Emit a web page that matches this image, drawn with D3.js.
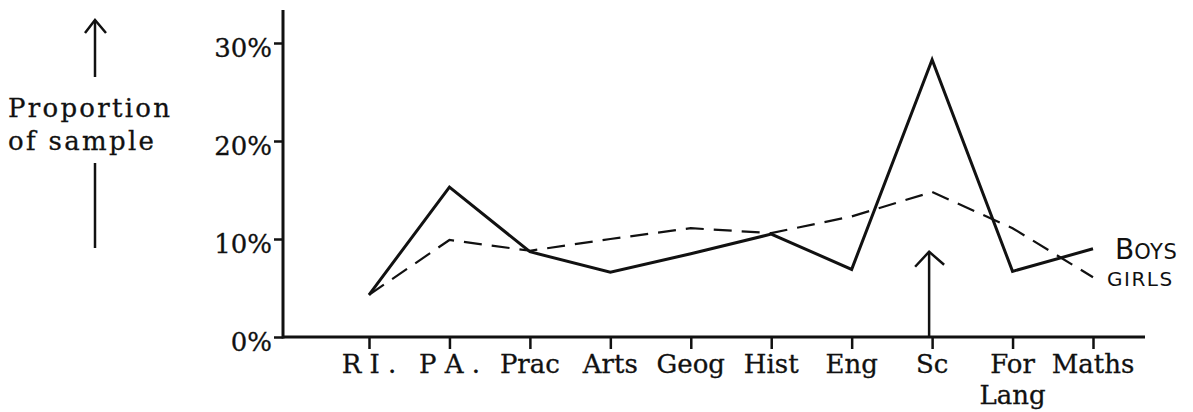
<!DOCTYPE html>
<html lang="en">

<head>
    <meta charset="UTF-8">
    <title>Proportion of sample by subject</title>
    <script src="https://d3js.org/d3.v7.js"></script>
    <style>
        body { margin: 0; background: #fff; }
        .type { font-family: "DejaVu Serif", "Liberation Serif", serif; fill: #111; stroke: #111; stroke-width: 0.3px; }
        .hand { font-family: "DejaVu Sans", sans-serif; fill: #111; }
    </style>
</head>

<body>
    <div class="canvas"></div>

    <script>
        // values (percent of sample)
        let subjects = ["R.I.", "P.A.", "Prac", "Arts", "Geog", "Hist", "Eng", "Sc", "For Lang", "Maths"];
        let subjectLabels = [["R I ."], ["P A ."], ["Prac"], ["Arts"], ["Geog"], ["Hist"], ["Eng"], ["Sc"], ["For", "Lang"], ["Maths"]];
        let boys = [4.3, 15.3, 8.7, 6.6, 8.5, 10.5, 6.9, 28.3, 6.7, 9.0];
        let girls = [4.3, 9.9, 8.8, 10.0, 11.1, 10.6, 12.3, 14.8, 11.1, 6.1];
        let yTicks = [0, 10, 20, 30];
        let yTickLabels = ["0%", "10%", "20%", "30%"];
        let scArrowTop = 8.7; // the arrow under Sc reaches about here

        // canvas
        let width = 1193, height = 412;
        let originX = 283, originY = 337;

        let svg = d3.select(".canvas")
            .append("svg")
            .attr("width", width)
            .attr("height", height);

        // scales
        let x = d3.scalePoint()
            .domain(subjects)
            .range([369, 1093]);
        let y = d3.scaleLinear()
            .domain([0, 30])
            .range([originY, 43]);

        // y axis
        let yAxis = svg.append("g")
            .attr("transform", "translate(" + originX + ",0)")
            .call(d3.axisLeft(y).tickValues(yTicks).tickSize(9).tickFormat((d, i) => yTickLabels[i]));
        yAxis.select(".domain").remove();
        yAxis.selectAll(".tick line").attr("stroke", "#111").attr("stroke-width", 2.5);
        yAxis.selectAll(".tick text")
            .attr("class", "type")
            .attr("font-size", 26)
            .attr("dy", null)
            .attr("y", 13)
            .attr("x", -11);

        // x axis
        let xAxis = svg.append("g")
            .attr("transform", "translate(0," + originY + ")")
            .call(d3.axisBottom(x).tickSize(12).tickFormat(""));
        xAxis.select(".domain").remove();
        xAxis.selectAll(".tick line").attr("stroke", "#111").attr("stroke-width", 2.5);

        // axis lines
        svg.append("line")
            .attr("x1", originX).attr("x2", originX)
            .attr("y1", y(30) - 33).attr("y2", originY + 1.5)
            .attr("stroke", "#111").attr("stroke-width", 3);
        svg.append("line")
            .attr("x1", originX).attr("x2", 1145)
            .attr("y1", originY).attr("y2", originY)
            .attr("stroke", "#111").attr("stroke-width", 3);

        // subject labels
        let labels = svg.append("g").selectAll("text")
            .data(subjects)
            .enter()
            .append("text")
            .attr("class", "type")
            .attr("font-size", 26)
            .attr("text-anchor", "middle")
            .attr("x", d => x(d))
            .attr("y", 373);
        labels.selectAll("tspan")
            .data((d, i) => subjectLabels[i].map(t => ({ t: t, s: d })))
            .enter()
            .append("tspan")
            .attr("x", d => x(d.s))
            .attr("dy", (d, i) => i == 0 ? 0 : 31)
            .text(d => d.t);

        // lines
        let line = d3.line()
            .x((d, i) => x(subjects[i]))
            .y(d => y(d));
        svg.append("path")
            .datum(girls)
            .attr("d", line)
            .attr("fill", "none")
            .attr("stroke", "#111")
            .attr("stroke-width", 2.2)
            .attr("stroke-dasharray", "18,10");
        svg.append("path")
            .datum(boys)
            .attr("d", line)
            .attr("fill", "none")
            .attr("stroke", "#111")
            .attr("stroke-width", 3)
            .attr("stroke-linejoin", "miter");

        // arrow under Sc
        let ax = x("Sc") - 3;
        svg.append("line")
            .attr("x1", ax).attr("x2", ax)
            .attr("y1", y(scArrowTop)).attr("y2", originY)
            .attr("stroke", "#111").attr("stroke-width", 2.5);
        svg.append("path")
            .attr("d", "M" + (ax - 14) + "," + (y(scArrowTop) + 15) + "L" + ax + "," + y(scArrowTop) + "L" + (ax + 15) + "," + (y(scArrowTop) + 13))
            .attr("fill", "none").attr("stroke", "#111").attr("stroke-width", 2.5);

        // legend (hand written)
        let lg = svg.append("g");
        let bt = lg.append("text").attr("class", "hand").attr("x", 1115).attr("y", 259);
        bt.append("tspan").attr("font-size", 28).text("B");
        bt.append("tspan").attr("font-size", 21).attr("letter-spacing", 0.5).text("OYS");
        lg.append("text").attr("class", "hand")
            .attr("x", 1107).attr("y", 286)
            .attr("font-size", 20)
            .attr("letter-spacing", 1.5)
            .text("GIRLS");

        // y axis title with arrows
        let tg = svg.append("g");
        tg.append("text").attr("class", "type")
            .attr("font-size", 26)
            .attr("textLength", 162).attr("lengthAdjust", "spacing")
            .attr("x", 8).attr("y", 117)
            .text("Proportion");
        tg.append("text").attr("class", "type")
            .attr("font-size", 26)
            .attr("textLength", 146).attr("lengthAdjust", "spacing")
            .attr("x", 8).attr("y", 150)
            .text("of sample");
        tg.append("line")
            .attr("x1", 95).attr("x2", 95).attr("y1", 20).attr("y2", 77)
            .attr("stroke", "#111").attr("stroke-width", 2.5);
        tg.append("path")
            .attr("d", "M85,33L95,20L106,33")
            .attr("fill", "none").attr("stroke", "#111").attr("stroke-width", 2.5);
        tg.append("line")
            .attr("x1", 95).attr("x2", 95).attr("y1", 163).attr("y2", 248)
            .attr("stroke", "#111").attr("stroke-width", 2.5);
    </script>
</body>

</html>
